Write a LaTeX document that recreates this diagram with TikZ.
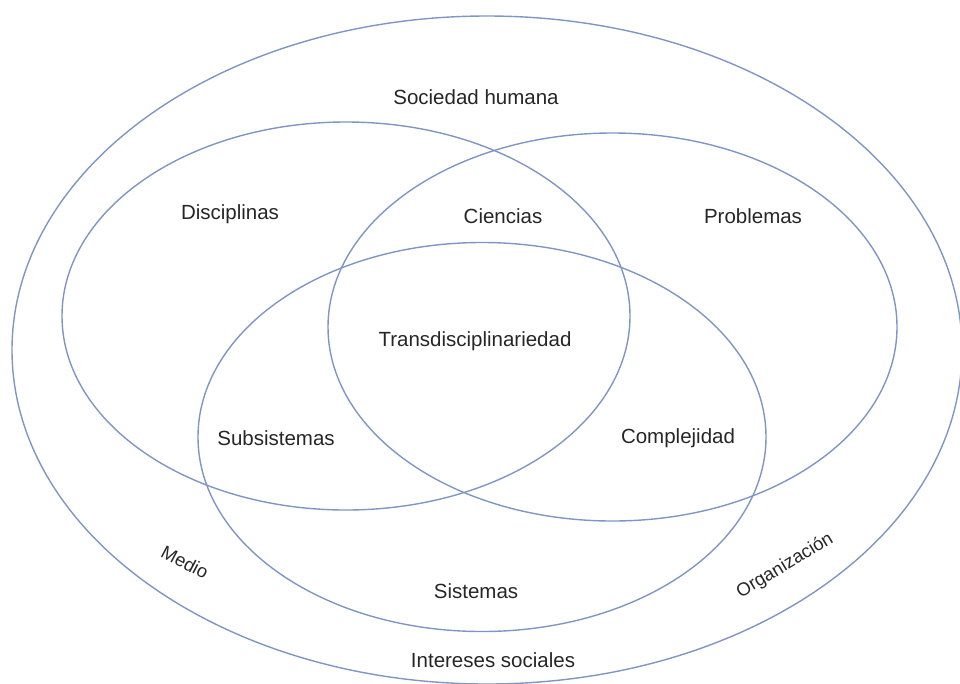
\documentclass[tikz,border=0pt]{standalone}
\usepackage{fontspec}
\setmainfont{Liberation Sans}
\usetikzlibrary{shapes.geometric}
\definecolor{ringblue}{HTML}{7F96C4}

\begin{document}
\begin{tikzpicture}[x=1pt,y=-1pt]
    \tikzstyle{ring}=[ellipse, draw=ringblue, line width=1.4pt, inner sep=0pt]
    \tikzstyle{lbl}=[text=black!85, font=\fontsize{20.5}{24}\selectfont, inner sep=0pt]
    \tikzstyle{slbl}=[lbl, font=\fontsize{18.5}{22}\selectfont]
    \useasboundingbox (0,0) rectangle (960,683);
    \clip (0,0) rectangle (960,683);
    \node [ring, minimum width=950, minimum height=668] (sociedad) at (487,350) {};
    \node [ring, minimum width=568, minimum height=388] (disciplinas) at (346,316) {};
    \node [ring, minimum width=569, minimum height=388] (problemas) at (612.5,327) {};
    \node [ring, minimum width=568, minimum height=389] (sistemas) at (482,437) {};
    \node [lbl] (lsociedad) at (476,97) {Sociedad humana};
    \node [lbl] (ldisciplinas) at (230,214) {Disciplinas};
    \node [lbl] (lciencias) at (503,216) {Ciencias};
    \node [lbl] (lproblemas) at (753,216) {Problemas};
    \node [lbl] (ltrans) at (475,341) {Transdisciplinariedad};
    \node [lbl] (lsubsistemas) at (276,438) {Subsistemas};
    \node [lbl] (lcomplejidad) at (678,438) {Complejidad};
    \node [lbl] (lsistemas) at (476,591) {Sistemas};
    \node [lbl] (lintereses) at (493,660) {Intereses sociales};
    \node [slbl, rotate=-28] (lmedio) at (185,562) {Medio};
    \node [slbl, rotate=31] (lorganizacion) at (785,566) {Organización};
\end{tikzpicture}
\end{document}
